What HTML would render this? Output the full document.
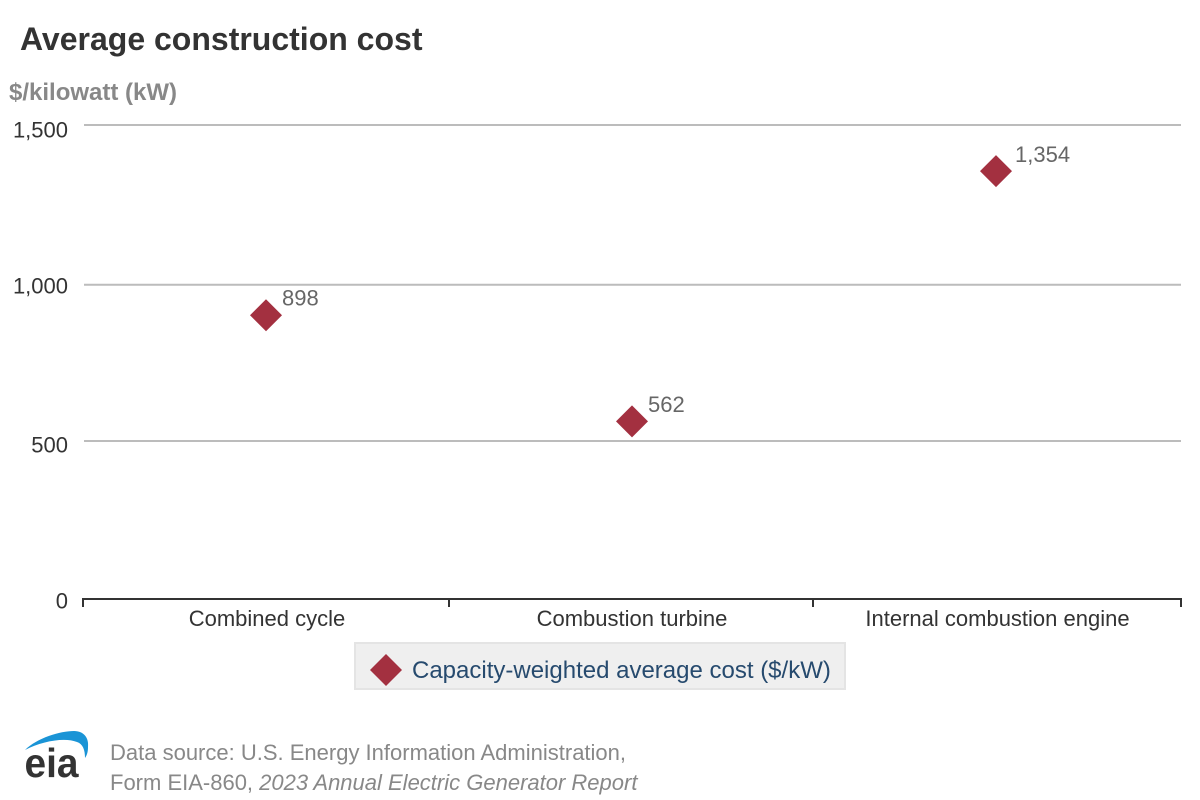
<!DOCTYPE html>
<html lang="en">
<head>
<meta charset="utf-8">
<title>Average construction cost</title>
<style>
  html, body { margin: 0; padding: 0; background: #fff; }
  svg { display: block; font-family: "Liberation Sans", Arial, sans-serif; }
</style>
</head>
<body>
<svg id="chart" xmlns="http://www.w3.org/2000/svg" width="1200" height="800" viewBox="0 0 1200 800">
  <text x="20" y="50" font-size="32" font-weight="700" fill="#333">Average construction cost</text>
  <text x="9" y="100" font-size="24" font-weight="700" fill="#888">$/kilowatt (kW)</text>
  <g id="grid"></g>
  <g id="y-labels"></g>
  <g id="x-axis"></g>
  <g id="points"></g>
  <g>
    <rect x="355" y="643" width="490" height="46" fill="#efefef" stroke="#e4e4e4" stroke-width="2"/>
    <polygon points="386,654 402,670 386,686 370,670" fill="#a33040"/>
    <text x="412" y="678" font-size="24" fill="#264a6e">Capacity-weighted average cost ($/kW)</text>
  </g>
  <g>
    <path d="M25 750 C37 738 60 731 74 731 C84 731 89 738 88 747 C88 752 87 755 85 758 C85 750 83 744 77 742 C65 737 42 741 25 750 Z" fill="#1a94d6"/>
    <text x="24.5" y="777" font-size="41" font-weight="700" fill="#333" textLength="54" lengthAdjust="spacingAndGlyphs">eia</text>
  </g>
  <text x="110" y="760" font-size="22" fill="#888">Data source: U.S. Energy Information Administration,</text>
  <text x="110" y="790" font-size="22" fill="#888">Form EIA-860, <tspan font-style="italic">2023 Annual Electric Generator Report</tspan></text>
</svg>
<script>
const categories = ["Combined cycle", "Combustion turbine", "Internal combustion engine"];
const seriesValues = [898, 562, 1354];
const valueLabels = ["898", "562", "1,354"];
const yTicks = [0, 500, 1000, 1500];
const yTickLabels = ["0", "500", "1,000", "1,500"];

const NS = "http://www.w3.org/2000/svg";
const plotLeft = 83, plotRight = 1181, plotTop = 125, plotBottom = 599;
const yMax = 1500;
function yScale(v) { return plotBottom - (v / yMax) * (plotBottom - plotTop); }
function bandStart(i) { return plotLeft + i * (plotRight - plotLeft) / categories.length; }
function labelX(i) { return bandStart(i) + (plotRight - plotLeft) / categories.length / 2 + (i === 2 ? -0.5 : i === 1 ? 0 : 1); }
function xScale(i) { return 266 + i * 365 + (i === 1 ? 1 : 0); }
function make(tag, attrs, parent, text) {
  const el = document.createElementNS(NS, tag);
  for (const k in attrs) el.setAttribute(k, attrs[k]);
  if (text !== undefined) el.textContent = text;
  parent.appendChild(el);
  return el;
}
const grid = document.getElementById("grid");
const yLabels = document.getElementById("y-labels");
const xAxis = document.getElementById("x-axis");
const points = document.getElementById("points");

yTicks.forEach(function (t, i) {
  const y = yScale(t);
  if (t !== 0) {
    const nudge = t === 1000 ? 1.7 : 0;
    const line = make("line", { x1: 84, x2: 1181, y1: y + nudge, y2: y + nudge, stroke: "#bcbcbc", "stroke-width": 2 }, grid);
    
    
  }
  const label = make("text", { x: 68, y: y + (t === 0 ? 9.5 : t === 500 ? 11.5 : t === 1000 ? 10.5 : 12.5), "text-anchor": "end", "font-size": 22, fill: "#333" }, yLabels, yTickLabels[i]);
  
  
});

const baseline = make("line", { x1: 82, x2: 1182, y1: plotBottom, y2: plotBottom, stroke: "#333", "stroke-width": 2 }, xAxis);



for (let i = 0; i <= categories.length; i++) {
  const x = Math.round(bandStart(i)) - (i === 2 ? 2 : 0);
  const tick = make("line", { x1: x, x2: x, y1: plotBottom, y2: plotBottom + 8, stroke: "#333", "stroke-width": 2 }, xAxis);
  
  
}

categories.forEach(function (c, i) {
  const label = make("text", { x: labelX(i), y: 626, "text-anchor": "middle", "font-size": 22, fill: "#333" }, xAxis, c);
  
  
});

seriesValues.forEach(function (v, i) {
  const x = xScale(i), y = yScale(v), r = 16;
  const marker = make("polygon", { points: [x, y - r, x + r, y, x, y + r, x - r, y].join(" "), fill: "#a33040" }, points);
  
  
  const label = make("text", { x: x + 16 + (i === 2 ? 3 : 0), y: y - 9.5 + (i === 2 ? 0.5 : 0), "font-size": 22, fill: "#666" }, points, valueLabels[i]);
  
  
});
</script>
</body>
</html>
